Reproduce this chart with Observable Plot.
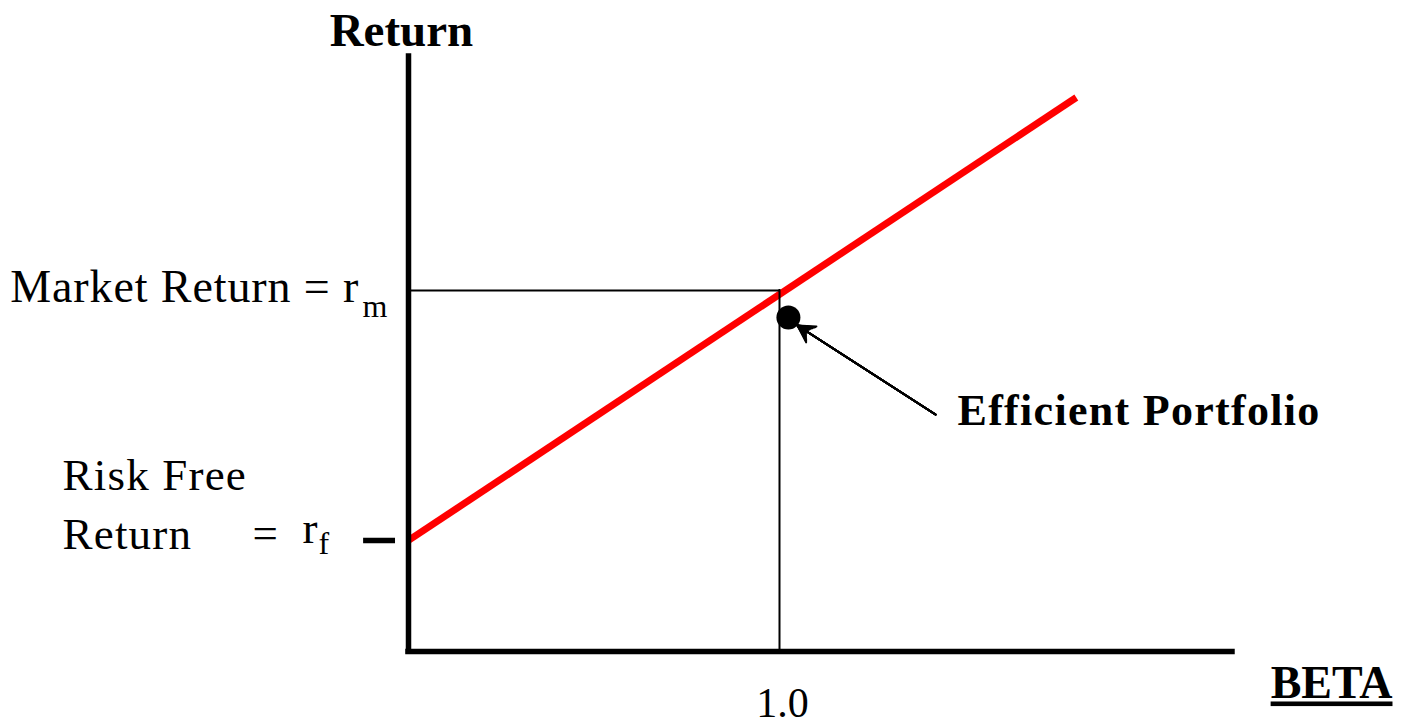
<!DOCTYPE html>
<html>
<head>
<meta charset="utf-8">
<script src="https://cdn.jsdelivr.net/npm/d3@7"></script>
<script src="https://cdn.jsdelivr.net/npm/@observablehq/plot@0.6"></script>
<style>
  html, body { margin: 0; padding: 0; background: #ffffff; }
  #chart svg { display: block; }
  .beta-label text { text-decoration: underline; text-decoration-thickness: 3px; text-underline-offset: 4px; }
  .main-label text { letter-spacing: 0.9px; }
  .main-label-start text { letter-spacing: 1.2px; }
  .portfolio-label text { letter-spacing: 1.3px; }
</style>
</head>
<body>
<div id="chart"></div>
<script>
// ---- Data ----
const riskFree = 4;          // r_f
const marketReturn = 13;     // r_m
const marketBeta = 1.0;      // beta of the market
const smlBeta = [0, 1.8];    // security market line
const smlReturn = [4, 19.95];
const portfolioBeta = [1.024];
const portfolioReturn = [12.03];
const arrowFrom = [1.4205, 8.534];   // [beta, return]
const arrowTo = [1.0485, 11.74];
const xAxisExtent = [0, 2.221];
const yAxisExtent = [0, 21.43];
const rfTickSpan = [-0.121, -0.035];

// text labels
const titleText = ["Return"];
const titlePos = [[-0.019, 21.82]];
const mainLabels = ["Market Return = r", "Risk Free", "Return", "=", "r"];
const mainLabelPos = [[-0.1326, 12.57], [-0.9326, 5.80], [-0.9326, 3.709], [-0.4205, 3.745], [-0.2857, 3.925]];
const mainLabelAnchor = ["end", "start", "start", "start", "start"];
const subLabels = ["m", "f"];
const subLabelPos = [[-0.124, 12.03], [-0.2426, 3.529]];
const portfolioLabel = ["Efficient Portfolio"];
const portfolioLabelPos = [[1.4798, 8.174]];
const tickLabels = ["1.0"];
const tickLabelPos = [[1.008, -2.341]];
const axisTitle = ["BETA"];
const axisTitlePos = [[2.488, -1.692]];

// ---- Tables built from the arrays ----
const sml = smlBeta.map((b, i) => ({beta: b, ret: smlReturn[i]}));
const portfolio = portfolioBeta.map((b, i) => ({beta: b, ret: portfolioReturn[i]}));
const arrow = [{x1: arrowFrom[0], y1: arrowFrom[1], x2: arrowTo[0], y2: arrowTo[1]}];
const mk = (texts, pos, anchors) => texts.map((t, i) => ({text: t, beta: pos[i][0], ret: pos[i][1], anchor: anchors ? anchors[i] : "start"}));

const serif = "Liberation Serif, Times New Roman, Times, serif";

// filled concave arrow head approximated by a fan of heads
const headFan = [[60, 14.2], [55, 13.3], [51, 12.4], [45, 11.4], [40, 10.5], [32, 9.7], [23, 9], [15, 8.3], [8, 7.9]];

const marks = [
  // security market line
  Plot.line(sml, {x: "beta", y: "ret", stroke: "#ff0000", strokeWidth: 7, strokeLinecap: "butt"}),
  // market guides
  Plot.ruleY([marketReturn], {x1: 0, x2: marketBeta, stroke: "black", strokeWidth: 2, strokeLinecap: "square"}),
  Plot.ruleX([marketBeta], {y1: 0, y2: marketReturn, stroke: "black", strokeWidth: 2, strokeLinecap: "square"}),
  // axes
  Plot.ruleX([0], {y1: yAxisExtent[0], y2: yAxisExtent[1], stroke: "black", strokeWidth: 5.5, strokeLinecap: "square"}),
  Plot.ruleY([0], {x1: xAxisExtent[0], x2: xAxisExtent[1], stroke: "black", strokeWidth: 5.5, strokeLinecap: "square"}),
  // risk free tick
  Plot.ruleY([riskFree], {x1: rfTickSpan[0], x2: rfTickSpan[1], stroke: "black", strokeWidth: 5.5}),
  // efficient portfolio
  Plot.dot(portfolio, {x: "beta", y: "ret", r: 12, fill: "black", stroke: "none"}),
  ...headFan.map(([angle, len]) => Plot.arrow(arrow, {x1: "x1", y1: "y1", x2: "x2", y2: "y2", stroke: "black", strokeWidth: 2, headAngle: angle, headLength: len})),
  // texts
  Plot.text(mk(titleText, titlePos), {x: "beta", y: "ret", text: "text", textAnchor: "middle", lineAnchor: "bottom", fontSize: 47, fontWeight: "bold", fontFamily: serif, fill: "black"}),
  Plot.text(mk(mainLabels, mainLabelPos, mainLabelAnchor).filter(d => d.anchor === "end"), {x: "beta", y: "ret", text: "text", textAnchor: "end", lineAnchor: "bottom", fontSize: 46, fontFamily: serif, fill: "black", className: "main-label"}),
  Plot.text(mk(mainLabels, mainLabelPos, mainLabelAnchor).filter(d => d.anchor === "start"), {x: "beta", y: "ret", text: "text", textAnchor: "start", lineAnchor: "bottom", fontSize: 45, fontFamily: serif, fill: "black", className: "main-label-start"}),
  Plot.text(mk(subLabels, subLabelPos), {x: "beta", y: "ret", text: "text", textAnchor: "start", lineAnchor: "bottom", fontSize: 32, fontFamily: serif, fill: "black"}),
  Plot.text(mk(portfolioLabel, portfolioLabelPos), {x: "beta", y: "ret", text: "text", textAnchor: "start", lineAnchor: "bottom", fontSize: 44, fontWeight: "bold", fontFamily: serif, fill: "black", className: "portfolio-label"}),
  Plot.text(mk(tickLabels, tickLabelPos), {x: "beta", y: "ret", text: "text", textAnchor: "middle", lineAnchor: "bottom", fontSize: 42, fontFamily: serif, fill: "black"}),
  Plot.text(mk(axisTitle, axisTitlePos), {x: "beta", y: "ret", text: "text", textAnchor: "middle", lineAnchor: "bottom", fontSize: 46, fontWeight: "bold", fontFamily: serif, fill: "black", className: "beta-label"})
];

const chart = Plot.plot({
  width: 1406,
  height: 724,
  margin: 0,
  style: {background: "#ffffff", fontFamily: serif, overflow: "visible"},
  x: {type: "linear", domain: [0, 1], range: [408, 779], axis: null},
  y: {type: "linear", domain: [0, 13], range: [651, 290], axis: null},
  marks
});
document.getElementById("chart").append(chart);
</script>
</body>
</html>
